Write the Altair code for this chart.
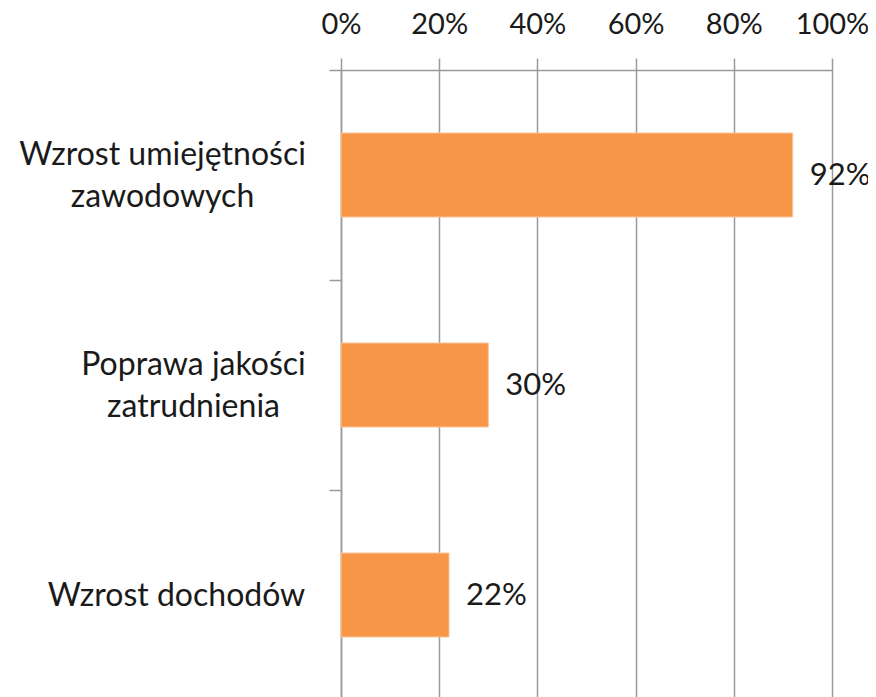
import altair as alt
import pandas as pd

categories = ["Wzrost umiejętności\nzawodowych", "Poprawa jakości\nzatrudnienia", "Wzrost dochodów"]
values = [0.92, 0.30, 0.22]
x_ticks = [0, 0.2, 0.4, 0.6, 0.8, 1.0]

df = pd.DataFrame({"cat": categories, "val": values})

FONT = "Lato"
GRID = "#9a9a9a"
TEXT = "#1a1a1a"
H = 630
STEP = H / 3
LINE_H = 42

y_enc = alt.Y(
    "cat:N",
    sort=categories,
    scale=alt.Scale(paddingInner=0.6, paddingOuter=0.3),
    axis=alt.Axis(
        title=None,
        labelExpr="split(datum.label, '\\n')",
        labelAlign="center",
        labelBaseline="middle",
        labelPadding={
            "condition": [
                {"test": "indexof(datum.value, 'Poprawa') >= 0", "value": 136},
                {"test": "indexof(datum.value, 'umiej') >= 0", "value": 167},
            ],
            "value": 153,
        },
        labelFontSize=32,
        labelLineHeight=LINE_H,
        labelFont=FONT,
        labelColor=TEXT,
        labelLimit=0,
        labelOverlap=False,
        tickOffset=-STEP / 2,
        labelOffset={
            "condition": {"test": "indexof(datum.value, 'dochod') >= 0", "value": STEP / 2},
            "value": STEP / 2 - LINE_H / 2,
        },
        tickSize=12,
        tickColor=GRID,
        tickWidth=1.5,
        domainColor=GRID,
        domainWidth=1.5,
        grid=False,
    ),
)

x_enc = alt.X(
    "val:Q",
    scale=alt.Scale(domain=[0, 1]),
    axis=alt.Axis(
        title=None,
        orient="top",
        values=x_ticks,
        format=".0%",
        labelFontSize=29,
        labelFont=FONT,
        labelColor=TEXT,
        labelBaseline="alphabetic",
        labelPadding=25,
        labelOverlap=False,
        labelFlush=False,
        tickSize=12,
        tickColor=GRID,
        tickWidth=1.5,
        domainColor=GRID,
        domainWidth=1.5,
        grid=True,
        gridColor=GRID,
        gridWidth=1.5,
    ),
)

bars = alt.Chart(df).mark_bar(color="#F79646", stroke="#fbc49c", strokeWidth=1).encode(
    x=x_enc, y=y_enc
)

labels = alt.Chart(df).mark_text(
    align="left", baseline="middle", dx=17, dy=1, fontSize=31, font=FONT, color=TEXT
).encode(
    x="val:Q",
    y=alt.Y("cat:N", sort=categories),
    text=alt.Text("val:Q", format=".0%"),
)

chart = (
    alt.layer(bars, labels)
    .properties(
        width=491,
        height=H,
        autosize=alt.AutoSizeParams(type="none"),
        padding={"left": 333, "top": 62, "right": 36, "bottom": 0},
    )
    .configure_view(stroke=None)
    .configure(background="white")
)

chart.save("out.html", embed_options={"renderer": "svg", "actions": False})
